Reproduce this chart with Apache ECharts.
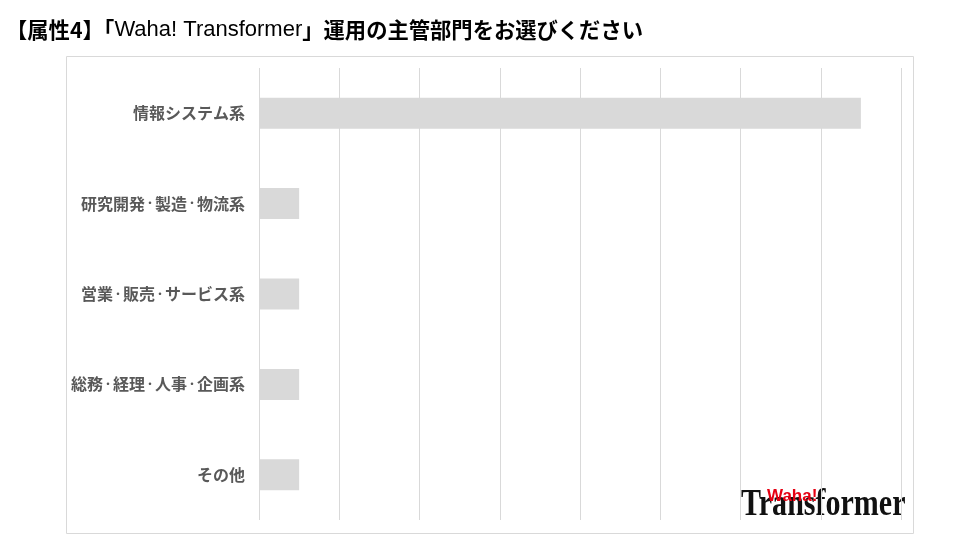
<!DOCTYPE html>
<html><head><meta charset="utf-8">
<script src="https://cdn.jsdelivr.net/npm/echarts@6/dist/echarts.min.js"></script>
<style>html,body{margin:0;padding:0;background:#fff}#c{width:974px;height:540px}</style>
</head><body><div id="c"></div>
<script>
var titlePre = '【属性4】「';
var titleBrand = 'Waha! Transformer';
var titlePost = '」運用の主管部門をお選びください';
var categories = ['情報システム系','研究開発・製造・物流系','営業・販売・サービス系','総務・経理・人事・企画系','その他'];
var values = [15, 1, 1, 1, 1];
var axisMax = 16, axisInterval = 2;

var chart = echarts.init(document.getElementById('c'));
var cjk = '"Noto Sans CJK JP","Noto Sans",sans-serif';
chart.setOption({
  animation: false,
  title: {text: '{b|' + titlePre + '}{l|' + titleBrand + '}{b|' + titlePost + '}', left: 1, top: 8,
    textStyle: {fontFamily: cjk, fontSize: 21, fontWeight: 'bold', color: '#000',
      rich: {
        b: {fontFamily: cjk, fontSize: 21.3, fontWeight: 'bold', color: '#000', lineHeight: 28, verticalAlign: 'bottom'},
        l: {fontFamily: '"Liberation Sans", Arial, sans-serif', fontSize: 22, fontWeight: 'normal', color: '#000', lineHeight: 23, verticalAlign: 'bottom'}
      }}},
  grid: {left: 259, right: 73, top: 68, bottom: 20},
  xAxis: {type: 'value', min: 0, max: axisMax, interval: axisInterval,
    axisLabel: {show: false}, axisLine: {show: false}, axisTick: {show: false},
    splitLine: {show: true, lineStyle: {color: '#d9d9d9', width: 1}}},
  yAxis: {type: 'category', data: categories, inverse: true,
    axisLine: {show: false}, axisTick: {show: false},
    axisLabel: {margin: 14, fontFamily: cjk, fontSize: 16, fontWeight: 'bold', color: '#595959',
      formatter: function (v) { return v.replace(/・/g, '{d|・}'); },
      rich: {d: {fontFamily: cjk, fontSize: 10, fontWeight: 'bold', color: '#595959'}}}},
  series: [{type: 'bar', data: values, barWidth: 31, itemStyle: {color: '#d9d9d9'}}],
  graphic: [
    {type: 'rect', shape: {x: 66.5, y: 56.5, width: 847, height: 477}, style: {fill: 'none', stroke: '#d9d9d9', lineWidth: 1}, silent: true, z: -1},
    {type: 'text', x: 741, y: 486, style: {text: 'Transformer', font: 'bold 38px "Liberation Serif", serif', fill: '#111'}, scaleX: 0.79},
    {type: 'text', x: 767, y: 488, style: {text: 'Waha!', font: 'bold 17px "Liberation Sans", Arial, sans-serif', fill: '#e60012'}, z: 10}
  ]
});
</script></body></html>
